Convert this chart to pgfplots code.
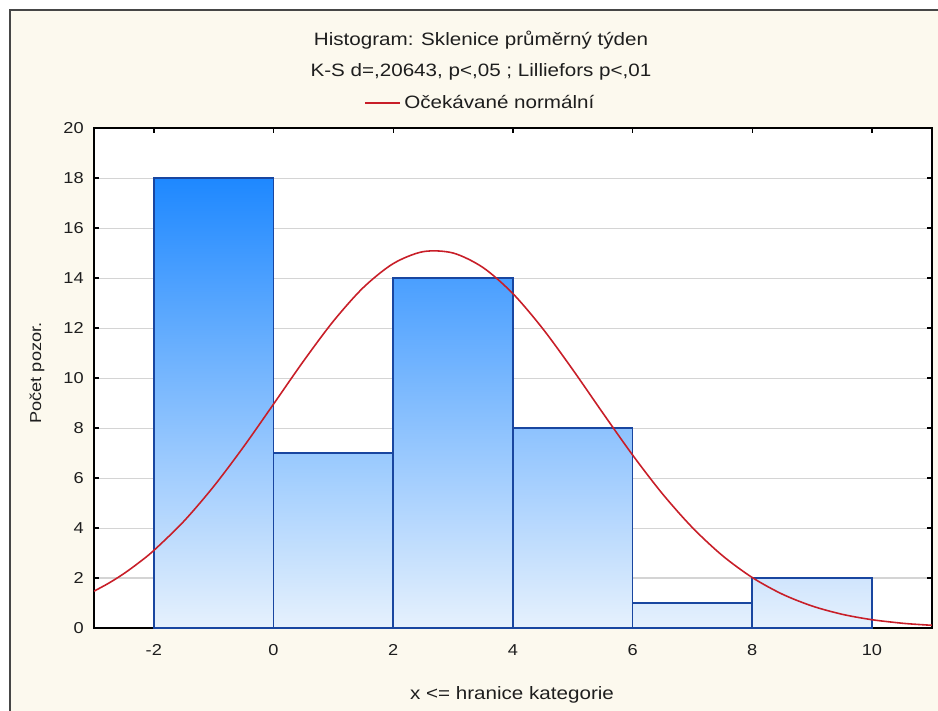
\documentclass[border=0pt]{standalone}
\usepackage{fontspec}
\setmainfont{Liberation Sans}[FakeStretch=1.15]
\usepackage{pgfplots}
\pgfplotsset{compat=1.18}

\definecolor{cream}{RGB}{252,249,238}
\definecolor{framegray}{RGB}{70,70,70}
\definecolor{textcol}{RGB}{30,30,30}
\definecolor{gridgray}{RGB}{212,212,212}
\definecolor{barline}{RGB}{25,70,160}
\definecolor{curvered}{RGB}{200,30,40}
\definecolor{barlight}{RGB}{230,241,253}
\definecolor{bA}{RGB}{30,136,255}
\definecolor{bB}{RGB}{152,201,254}
\definecolor{bC}{RGB}{74,159,255}
\definecolor{bD}{RGB}{141,194,254}
\definecolor{bE}{RGB}{219,235,253}
\definecolor{bF}{RGB}{208,229,253}

\newcommand{\bigfont}{\fontsize{10.2}{12}\selectfont}
\newcommand{\smallfont}{\fontsize{9}{11}\selectfont}

\begin{document}
\begin{tikzpicture}
% background, in pixel units of the 938x711 reference
\begin{scope}[x=0.02cm,y=0.02cm]
\path[use as bounding box] (0,0) rectangle (938,711);
\fill[white] (0,0) rectangle (938,711);
\fill[cream] (10,0) rectangle (938,701);
\draw[framegray, line width=1.2pt] (10,0) -- (10,701) -- (938,701);
\end{scope}

\begin{axis}[
    at={(1.88cm,1.66cm)}, anchor=south west,
    scale only axis,
    width=16.76cm, height=10cm,
    xmin=-3, xmax=11, ymin=0, ymax=20,
    xtick={-2,0,...,10},
    ytick={0,2,...,20},
    axis background/.style={fill=white},
    axis line style={black, line width=1.1pt},
    tick align=inside,
    major tick length=0.1cm,
    tick style={black, line width=0.8pt},
    ymajorgrids,
    major grid style={gridgray, line width=0.6pt},
    xticklabel pos=left, yticklabel pos=left,
    /pgf/number format/assume math mode=true,
    ticklabel style={font=\smallfont, text=textcol},
    yticklabel style={inner sep=0pt, anchor=east, xshift=-0.2cm},
    xticklabel style={inner sep=0pt, anchor=north, yshift=-0.33cm},
    no markers,
    legend style={at={(0.462,1.05)}, anchor=center, draw=none, fill=none,
        font=\bigfont, text=textcol},
    legend image code/.code={\draw[#1] (0cm,0cm) -- (0.7cm,0cm);},
]
\addplot[forget plot, draw=barline, line width=0.9pt, top color=bA, bottom color=barlight]
    coordinates {(-2,0) (-2,18) (0,18) (0,0)} -- cycle;
\addplot[forget plot, draw=barline, line width=0.9pt, top color=bB, bottom color=barlight]
    coordinates {(0,0) (0,7) (2,7) (2,0)} -- cycle;
\addplot[forget plot, draw=barline, line width=0.9pt, top color=bC, bottom color=barlight]
    coordinates {(2,0) (2,14) (4,14) (4,0)} -- cycle;
\addplot[forget plot, draw=barline, line width=0.9pt, top color=bD, bottom color=barlight]
    coordinates {(4,0) (4,8) (6,8) (6,0)} -- cycle;
\addplot[forget plot, draw=barline, line width=0.9pt, top color=bE, bottom color=barlight]
    coordinates {(6,0) (6,1) (8,1) (8,0)} -- cycle;
\addplot[forget plot, draw=barline, line width=0.9pt, top color=bF, bottom color=barlight]
    coordinates {(8,0) (8,2) (10,2) (10,0)} -- cycle;

\addplot[curvered, line width=0.9pt, smooth] coordinates {
    (-3,1.474) (-2.75,1.799) (-2.5,2.177) (-2.25,2.615) (-2,3.103) (-1.5,4.267) (-1,5.664) (-0.5,7.251)
    (0,8.957) (0.5,10.675) (1,12.276) (1.5,13.620) (2,14.579) (2.5,15.057)
    (3,15.003) (3.5,14.423) (4,13.379) (4.5,11.973) (5,10.337) (5.5,8.612)
    (6,6.922) (6.5,5.367) (7,4.016) (7.5,2.899) (8,2.019) (8.5,1.357)
    (9,0.880) (9.5,0.550) (10,0.332) (10.5,0.193) (10.75,0.146) (11,0.109)};
\addlegendentry{Očekávané normální}
\end{axis}

\begin{scope}[x=0.02cm,y=0.02cm]
\node[font=\bigfont, text=textcol] at (481,671) {Histogram: Sklenice průměrný týden};
\node[font=\bigfont, text=textcol] at (481,639) {K-S d=,20643, p<,05 ; Lilliefors p<,01};
\node[font=\bigfont, text=textcol] at (512,16) {x <= hranice kategorie};
\node[font=\smallfont, text=textcol, rotate=90] at (37,338) {Počet pozor.};
\end{scope}
\end{tikzpicture}
\end{document}
